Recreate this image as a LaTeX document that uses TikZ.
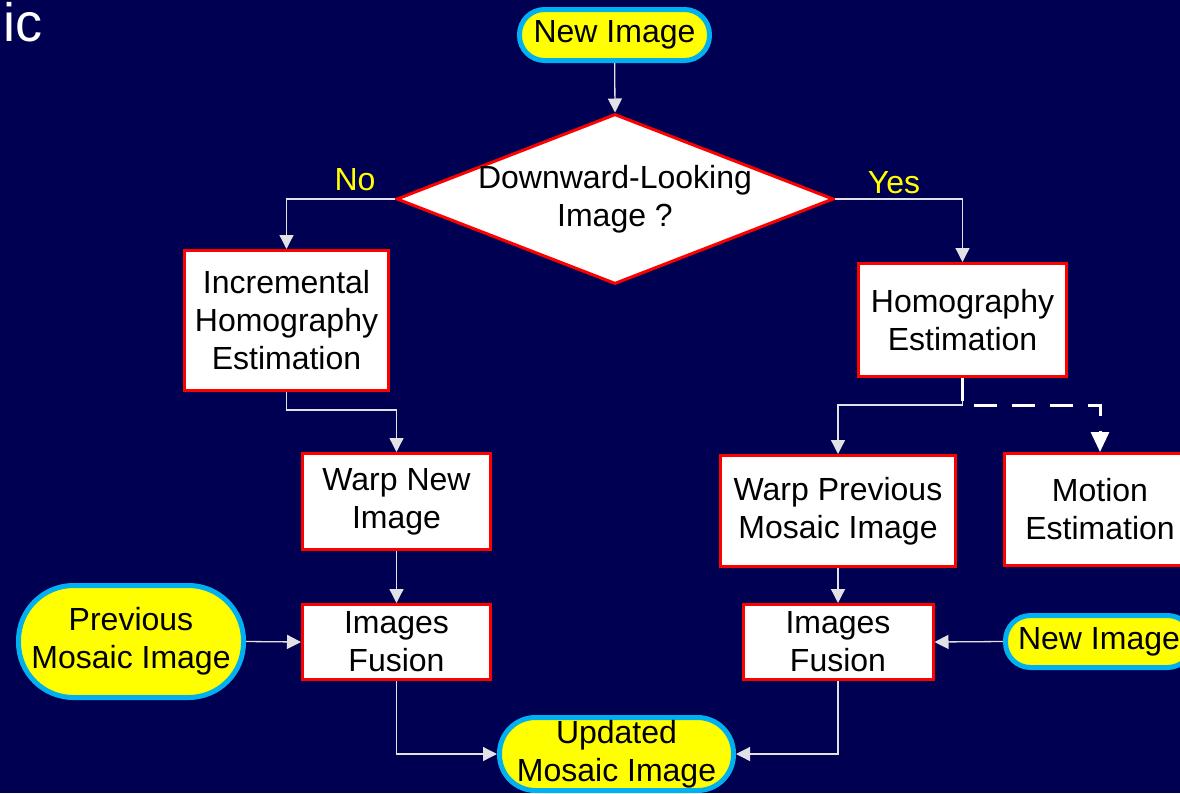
\documentclass[tikz,border=0pt]{standalone}
\usepackage{fontspec}
\setmainfont{Liberation Sans}
\usetikzlibrary{arrows.meta,shapes.geometric}
\definecolor{bgnavy}{RGB}{0,0,82}
\definecolor{capcyan}{RGB}{0,176,240}
\definecolor{capyellow}{RGB}{255,255,0}
\definecolor{linegray}{RGB}{225,225,230}
\tikzset{
  lbl/.style={font=\fontsize{32}{38}\selectfont, align=center},
  procbox/.style={lbl, draw=red, line width=3pt, fill=white, text=black, inner sep=0pt},
  capsule/.style={lbl, draw=capcyan, line width=5pt, fill=capyellow, text=black, inner sep=0pt},
  conn/.style={draw=linegray, line width=1.3pt, -{Triangle[length=14pt,width=14pt]}},
  dashconn/.style={draw=white, line width=3pt, dash pattern=on 23pt off 15pt, -{Triangle[length=20pt,width=18pt]}},
  answer/.style={font=\fontsize{32}{38}\selectfont, text=capyellow, inner sep=0pt}
}
\begin{document}
\begin{tikzpicture}[x=1pt,y=-1pt]
\fill[bgnavy] (0,0) rectangle (1180,793);
\useasboundingbox (0,0) rectangle (1180,793);

\node[font=\fontsize{54}{60}\selectfont, text=white, anchor=base west, inner sep=0pt] (title) at (3,41) {ic};

\node[capsule, minimum width=190pt, minimum height=51pt, rounded corners=25pt] (ni) at (614.5,35) {New Image};

\node[diamond, draw=red, line width=3pt, fill=white, minimum width=437pt, minimum height=170pt, inner sep=0pt] (dec) at (615,199) {};
\node[lbl, text=black, inner sep=0pt] (dectext) at (615,199) {Downward-Looking\\Image ?};

\node[answer] (no) at (355,180) {No};
\node[answer] (yes) at (894,183) {Yes};

\node[procbox, minimum width=204pt, minimum height=140pt] (inc) at (286.5,320.5) {Incremental\\Homography\\Estimation};
\node[procbox, minimum width=208pt, minimum height=113pt] (hom) at (962.5,320) {Homography\\Estimation};
\node[procbox, minimum width=188pt, minimum height=96pt] (wn) at (396.5,501.5) {Warp New\\Image};
\node[procbox, minimum width=235pt, minimum height=111pt] (wp) at (838,511) {Warp Previous\\Mosaic Image};
\node[procbox, minimum width=191pt, minimum height=112pt] (mot) at (1100,509.5) {Motion\\Estimation};
\node[procbox, minimum width=188pt, minimum height=75pt] (fl) at (396.5,642) {Images\\Fusion};
\node[procbox, minimum width=190pt, minimum height=75pt] (fr) at (838,642) {Images\\Fusion};

\node[capsule, minimum width=225pt, minimum height=112pt, rounded corners=55pt] (pm) at (131,641.5) {Previous\\Mosaic Image};
\node[capsule, minimum width=187pt, minimum height=52pt, rounded corners=25pt] (nr) at (1099,641.5) {New Image};
\node[capsule, minimum width=234pt, minimum height=73pt, rounded corners=36pt] (up) at (616.5,754) {Updated\\Mosaic Image};

\coordinate (split) at (962.5,405);
\coordinate (incturn) at (286.5,410);

\draw[conn] (ni) -- (dec.north);
\draw[conn] (dec.west) -| (inc.north);
\draw[conn] (dec.east) -| (hom.north);
\draw[conn] (inc.south) -- (incturn) -| (wn.north);
\draw[conn] (hom.south) -- (split) -| (wp.north);
\draw[dashconn] (hom.south) -- (split) -| (mot.north);
\draw[conn] (wn.south) -- (fl.north);
\draw[conn] (wp.south) -- (fr.north);
\draw[conn] (pm.east) -- (fl.west);
\draw[conn] (nr.west) -- (fr.east);
\draw[conn] (fl.south) |- (up.west);
\draw[conn] (fr.south) |- (up.east);
\end{tikzpicture}
\end{document}
